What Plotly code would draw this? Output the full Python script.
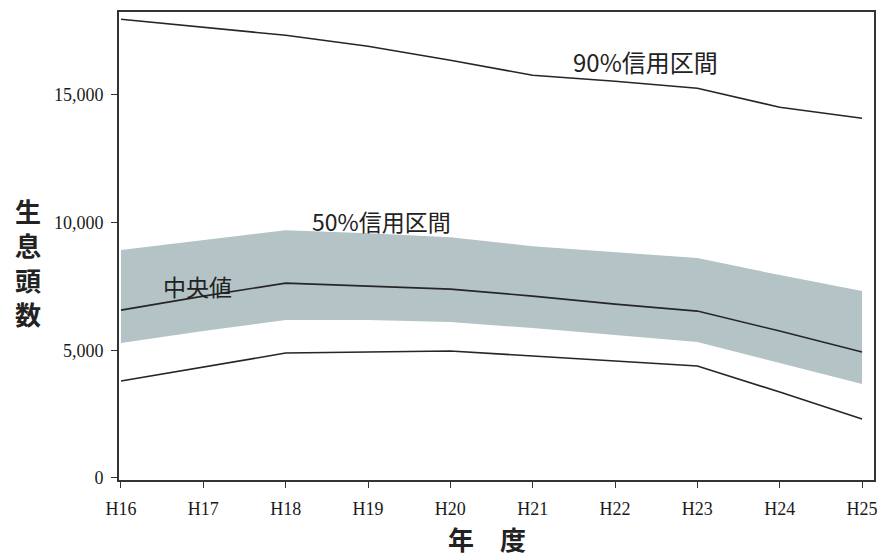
import plotly.graph_objects as go

# Fiscal years (Heisei era)
years = ["H16", "H17", "H18", "H19", "H20", "H21", "H22", "H23", "H24", "H25"]

# Estimated population: median and credible intervals
median = [6575, 7123, 7632, 7515, 7397, 7123, 6810, 6536, 5753, 4932]
ci50_upper = [8924, 9315, 9706, 9589, 9432, 9080, 8845, 8611, 7945, 7319]
ci50_lower = [5284, 5753, 6184, 6184, 6106, 5871, 5597, 5323, 4501, 3679]
ci90_upper = [17965, 17652, 17339, 16908, 16360, 15773, 15538, 15264, 14520, 14090]
ci90_lower = [3796, 4344, 4892, 4932, 4971, 4775, 4579, 4384, 3366, 2309]

y_ticks = [0, 5000, 10000, 15000]
y_tick_text = ["0", "5,000", "10,000", "15,000"]

x = list(range(len(years)))
line_col = "#262626"
band_col = "#b4c3c5"
sans = "Noto Sans CJK JP"

fig = go.Figure()

# 50% credible band
fig.add_trace(go.Scatter(x=x, y=ci50_lower, mode="lines", line=dict(width=0, color=band_col),
                         showlegend=False, hoverinfo="skip"))
fig.add_trace(go.Scatter(x=x, y=ci50_upper, mode="lines", line=dict(width=0, color=band_col),
                         fill="tonexty", fillcolor=band_col, showlegend=False, hoverinfo="skip"))

# 90% credible bounds and median
for series in (ci90_upper, ci90_lower, median):
    fig.add_trace(go.Scatter(x=x, y=series, mode="lines",
                             line=dict(color=line_col, width=1.6), showlegend=False))

# Series labels inside the plot
annotations = [
    dict(x=5.47, y=16295, text="90%信用区間", size=24),
    dict(x=2.30, y=10067, text="50%信用区間", size=23),
    dict(x=0.49, y=7521, text="中央値", size=23),
]
for a in annotations:
    fig.add_annotation(x=a["x"], y=a["y"], text=a["text"], showarrow=False,
                       xanchor="left", yanchor="middle",
                       font=dict(family=sans, size=a["size"], color="#222222"))

# Vertical y-axis title, one character per row
for ch, py in zip("生息頭数", [210, 244.5, 279, 313.5]):
    fig.add_annotation(xref="paper", yref="paper", x=-0.120, y=(480 - py) / 468,
                       text="<b>" + ch + "</b>", showarrow=False,
                       xanchor="center", yanchor="middle",
                       font=dict(family=sans, size=26, color="#222222"))

fig.add_annotation(xref="paper", yref="paper", x=0.487, y=-(538 - 480) / 468,
                   text="<b>年　度</b>", showarrow=False,
                   xanchor="center", yanchor="middle",
                   font=dict(family=sans, size=26, color="#222222"))

axis_common = dict(showline=True, linecolor="#333333", linewidth=1.6, mirror=True,
                   showgrid=False, zeroline=False, ticks="outside", ticklen=6,
                   tickwidth=1.3, tickcolor="#333333",
                   tickfont=dict(family="Liberation Serif", size=18, color="#1a1a1a"))

fig.update_xaxes(**axis_common, tickvals=x, ticktext=years, range=[-0.024, 9.145],
                 ticklabelstandoff=6)
fig.update_yaxes(**axis_common, tickvals=y_ticks, ticktext=y_tick_text, range=[-80, 18250],
                 ticklabelstandoff=4)

fig.update_layout(width=884, height=558, plot_bgcolor="white", paper_bgcolor="white",
                  margin=dict(l=119, r=6, t=12, b=78))

fig.write_html("out.html")
